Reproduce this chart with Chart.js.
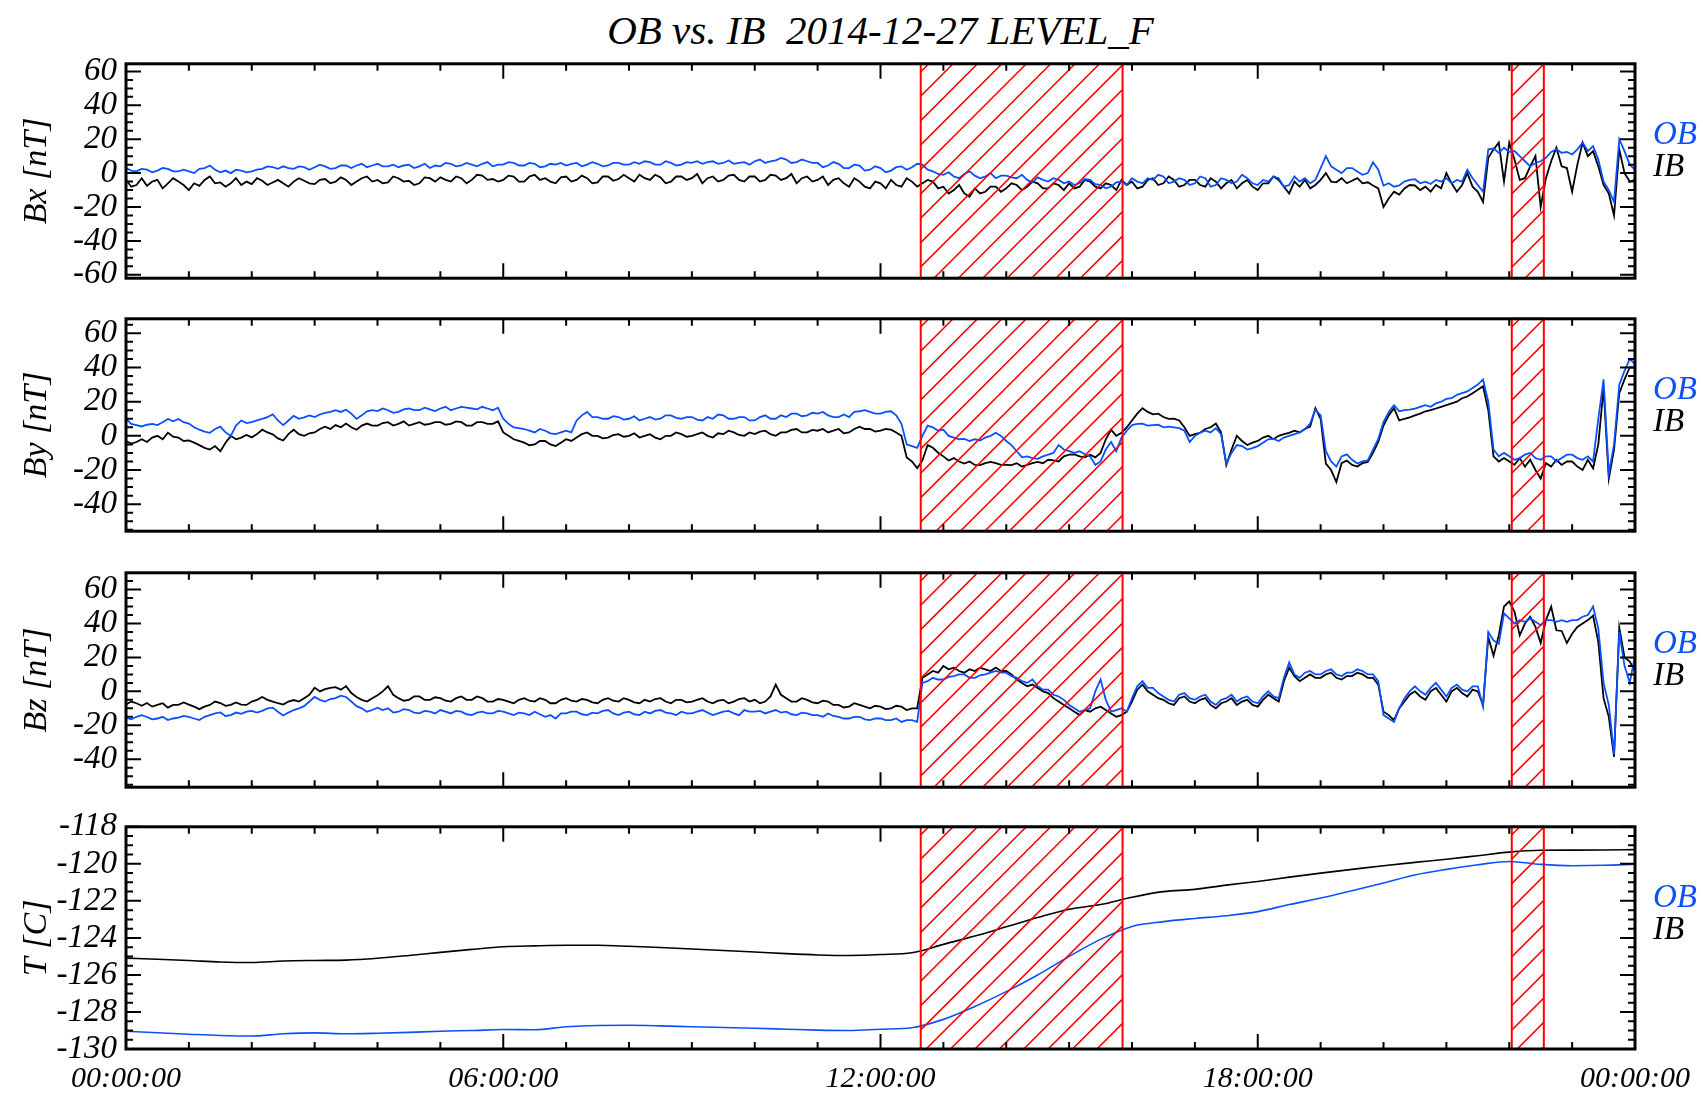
<!DOCTYPE html>
<html lang="en">
<head>
    <meta charset="UTF-8">
    <title>OB vs. IB 2014-12-27 LEVEL_F</title>
    <script src="https://cdn.jsdelivr.net/npm/chart.js@4.4.0/dist/chart.umd.min.js"></script>
    <style>
        body { margin: 0; width: 1703px; height: 1096px; background: #fff; position: relative; overflow: hidden; }
        canvas { position: absolute; left: 0; }
        #title { position: absolute; left: 126px; width: 1509px; top: 6px; line-height: 40px; text-align: center;
                 font: italic 41px "Liberation Serif", serif; white-space: pre; color: #000; }
    </style>
</head>
<body>
<div id="title">OB vs. IB  2014-12-27 LEVEL_F</div>
<canvas id="bx" width="1703" height="272" style="top:35px"></canvas>
<canvas id="by" width="1703" height="270" style="top:290px"></canvas>
<canvas id="bz" width="1703" height="272" style="top:544px"></canvas>
<canvas id="temp" width="1703" height="298" style="top:798px"></canvas>

<script>
    // x axis: hours of the day
    const timeTicks = [0, 6, 12, 18, 24];
    const timeLabels = ["00:00:00", "06:00:00", "12:00:00", "18:00:00", "00:00:00"];
    const seriesNames = ["OB", "IB"];

    // flagged intervals (hours), drawn hatched
    const flagged = [[12.64, 15.85], [22.04, 22.55]];

    // magnetometer, one value every 5 minutes (one row per hour), nT
    const bxOB = [
        3, 1.5, 1, 2.5, 2, 0.5, 1.5, 3, 2.5, 1, 1, 2,
        1, 0, 2.5, 3, 4.5, 2, 0.5, 1.5, 0, 2, 1.5, 0.5,
        1, 2, 2.5, 4, 3.5, 2.5, 4, 3, 2.5, 4, 3.5, 2,
        3.5, 5, 4, 2.5, 3, 4.5, 4.5, 3, 4.5, 5.5, 3.5, 4.5,
        5.5, 4, 4, 5, 3.5, 4.5, 5, 3, 4, 5.5, 3, 4.5,
        4, 6, 5.5, 4, 4.5, 6, 5, 4, 5.5, 6.5, 4, 5,
        5, 6.5, 6, 4.5, 4.5, 6, 5.5, 3.5, 4, 5.5, 5, 6,
        4.5, 5.5, 6, 4, 5, 6.5, 5.5, 4, 4.5, 6, 6, 5,
        5, 6.5, 5.5, 7, 6.5, 5, 5, 7, 6, 4.5, 5, 6.5,
        6, 7, 5.5, 6.5, 7, 5.5, 6, 7.5, 5.5, 6, 6.5, 5,
        7, 8, 6, 7, 7.5, 9, 8, 6, 6.5, 8, 7, 6,
        6, 3.5, 4.5, 6.5, 5.5, 3, 3, 5, 4.5, 1.5, 2, 4,
        3, 0.5, 1.5, 3.5, 4, 2, 3.5, 5.5, 5, 2, 1, -0.5,
        -1, 0.5, -2, -3, -0.5, 1, -1.5, -3, -2, 0, -3, -1.5,
        -1.5, -2.5, -3, -1, -4, -5.5, -2.5, -4, -5, -3, -4, -6,
        -5, -7, -6, -3.5, -4, -6.5, -7, -9, -8, -5.5, -5, -7,
        -3, -5, -6, -3, -4, -1, -2, -6, -5, -3, -4, -7,
        -6, -2, -3, -8, -7, -3, -4, -6, -5, -1, -3, -6,
        -7, -4, -5, -2, -3, -8, -7, -2, -5, -3, -6, -4,
        3, 10, 4, 2, 0, 3, 3, 1, -1, 0, 6.4, 2,
        -7.3, -6, -8, -7.3, -5, -4, -3.6, -6, -5, -6.4, -4, -5,
        -3, -6, -4, -5, 2, -3, -7, -11, 14, 14.5, 12, 15,
        12.5, 13, 10, 7, 4, 6, 7, 9, 12.5, 14, 12, 12.5,
        11, 14, 18, 13, 16, 8, -5, -10, -17, 20, 13, 5,
        2];
    const bxIB = [
        -4, -8, -7, -3, -7.5, -5, -4, -9, -6, -3, -5, -7,
        -10, -6, -7.5, -4, -2, -6, -5.5, -8, -6, -3, -7, -5,
        -6.5, -3, -4.5, -7, -5.5, -4, -6, -8, -5, -3, -4.5, -6,
        -6.5, -4, -3.5, -6, -5, -2.5, -4, -7, -5, -3, -2, -5,
        -4, -6, -5.5, -2, -3, -5, -4.5, -7, -6, -2.5, -3, -5,
        -2.5, -4, -5, -2, -3, -6, -4, -1, -1.5, -4, -3.5, -5,
        -4, -1.5, -2, -5, -5, -2, -1, -4, -3, -5, -6, -2.5,
        -2, -5, -4, -1.5, -3, -6, -5.5, -2, -2, -4.5, -3.5, -1,
        -3, -5, -1, -3, -4, -1, -2.5, -6, -5, -2, -2, -4,
        -3, -0.5, -6, -3, -2, -5, -4, -1.5, -1, -4, -5, -2,
        -2, -5, -4, -1, -1.5, -4, -3, -0.5, -6, -3, -2, -5,
        -4, -2, -7, -4, -3, -6, -8, -3, -5, -8, -9, -5,
        -6, -9, -4, -7, -8, -3, -5, -8, -6, -4, -5, -9,
        -8, -12, -10, -7, -12, -14, -9, -12, -11, -8, -8, -11,
        -9, -6, -7, -10, -8, -5, -6, -9, -9, -6, -7, -10,
        -6, -9, -8, -4, -5, -8, -9, -6, -7, -10, -4, -7,
        -5, -9, -8, -4, -3, -7, -6, -2, -4, -8, -7, -4,
        -4, -7, -8, -3, -5, -9, -6, -4, -9, -6, -4, -8,
        -10, -6, -6, -2, -4, -8, -12, -5, -8, -4, -9, -7,
        -4, 0, -5, -5.4, -3, -6, -4.5, -3, -6, -5.4, -7.3, -9,
        -20, -15, -11, -12.7, -9, -7, -7.3, -10, -8, -10.9, -7, -9,
        0, -6, -11, -7, 0, -8, -11, -17, 9, 14, 18, -5,
        18, 8, -4, -3, 4, 10, -20, -3, 7, 15, 4, 3,
        -11, 5, 18, 10, 13, 4, -7, -12, -25, 14, 0, -5,
        -4];
    const byOB = [
        10, 7, 6.3, 5.5, 6.5, 7, 6.3, 8, 9.9, 8.5, 9.9, 8,
        7.2, 5, 3.6, 2.5, 1.8, 4, 5.4, 2, 0, 6, 9, 7.5,
        8, 9, 9.9, 11, 12.6, 9, 6.3, 9, 11.7, 10, 10.8, 12,
        11, 12.5, 13.5, 14, 15, 14, 15.3, 13, 9.9, 12, 14.4, 15,
        14.5, 16, 15, 13.5, 14, 15.5, 16, 15, 15, 16.5, 15.5, 14.5,
        16, 17, 15, 16, 17, 16.5, 16, 15.5, 17, 16, 15, 16.5,
        10, 7, 5, 4.5, 4, 3, 2, 4, 3, 1.5, 1, 2,
        3, 2, 9, 12, 14, 11, 11, 10, 10, 11.5, 11, 9.5,
        10, 11.5, 9, 10, 11, 9.5, 10, 12, 12, 10.5, 10, 11,
        11, 9.5, 9, 11, 10, 12.5, 12, 10, 10, 11, 11, 9,
        9, 11, 12, 10, 10, 12, 11, 13, 13, 11.5, 12, 13.5,
        13, 14, 12, 11, 11, 12.5, 11, 14, 14.4, 15, 14, 13,
        13, 14, 14.4, 12, 7, -5, -6, -7, 0, 6, 5, 3,
        3.6, 0, -1, -2, -1.8, -3, -2, -2.7, -1, 0, 1.8, 0,
        -3, -5.4, -9, -12.6, -12, -13, -13.5, -12, -11, -10, -5.4, -8,
        -9, -10, -9, -10.8, -12, -17, -15, -8, -3.6, -9, -1, 3,
        6.3, 7, 7.2, 6, 6.3, 6.5, 5, 5.4, 5, 4.5, 3, -3.6,
        0, 1.8, 3, 2, 4.5, 1, -16.2, -10, -5.4, -6, -8, -7.2,
        -6, -4, -2, -1.8, -3, -1, 0, 1, 2, 4, 7.2, 15.3,
        12, -9, -15, -18, -12, -10.8, -14, -16.2, -15, -14.4, -8, -1.8,
        8, 14, 18, 14.4, 15, 15.3, 16, 17, 18, 17, 19, 20,
        21.6, 22, 24, 25, 26, 28, 30, 33, 20, -8, -12, -10,
        -12, -14, -13, -11, -10, -13, -14, -12, -12, -15, -13, -11,
        -11, -13, -14, -12, -15, 10, 33, -22, -5, 30, 38, 45,
        42];
    const byIB = [
        -3, -4.5, -3.6, -2, -3.6, -1, 0, -2, 1.8, -0.5, -1, -3,
        -2.7, -4, -5.4, -7, -8, -6, -9, -4, 0, -2, -1, 0.5,
        -0.9, 1, 3.6, 2, 0.9, -1.5, -2.7, 1, 3.6, 1, 0, 1.5,
        2, 4, 5.4, 4, 6.3, 5, 7.2, 5, 3.6, 6, 7.2, 6,
        6, 7.5, 8, 6, 7, 8.5, 6, 7, 8, 6.5, 7, 8,
        8, 6.5, 7, 8.5, 8, 6, 6, 8, 8, 7, 7, 8.5,
        2, 0, -2, -3, -4, -5.5, -5, -3, -3, -5, -6, -4,
        -2, -3, -1, 1, 2, 0, 0, -1.5, -1, 0.5, 1, -0.5,
        0, 1.5, -1, 0, 1, -1, -2, 0, 0, 2, 1, -0.5,
        0, 1, 2, 0, -1, 1.5, 1, 3, 2, 0.5, 0, 2,
        1, 2.5, 3, 1, 0, 2, 2, 3.5, 4, 2, 2, 3.5,
        3, 4, 2, 3, 4, 1.5, 2, 4, 5.4, 4, 4, 2.5,
        3, 4, 3.6, 2, 0, -12.6, -15, -18.9, -14.4, -5.4, -7, -9.9,
        -12, -14.4, -13, -15, -16.2, -15, -17, -17.1, -16, -15.3, -16, -17,
        -17, -17.1, -16, -18, -17, -16, -15.3, -16, -14, -14.4, -15, -12,
        -11, -10.8, -12, -12.6, -11, -12.6, -10, -2, 3.6, 0, 1.8, 5,
        9, 13, 16.2, 14, 12.6, 13, 11, 9.9, 10, 9, 5, 0,
        1, 1.8, 4, 5, 7.2, 2, -17.1, -8, 0, -3, -5.4, -4,
        -3, -1, 0, -2, 0, 1, 1.8, 3, 2, 4, 5.4, 16.2,
        10, -16.2, -20, -27, -16, -14.4, -17, -18, -16, -15.3, -10, -3.6,
        6, 12, 16.2, 9, 10, 10.8, 12, 13, 14.4, 15, 16, 17,
        18, 19, 20, 22, 23, 25, 27, 29, 15, -12, -15, -13,
        -15, -17, -13, -18, -14, -20, -25, -16, -18, -14, -17, -15,
        -15, -18, -20, -14, -19, -5, 28, -25, -8, 25, 33, 40,
        40];
    const bzOB = [
        -15.5, -16.5, -15, -14, -15.1, -16.5, -16, -15, -16.9, -16, -15.5, -14.5,
        -15.1, -16, -16.9, -15, -14, -13, -12.4, -14.5, -14, -12.5, -13.3, -12,
        -11.5, -12.5, -11.5, -10, -9.6, -12, -14.2, -12.5, -11, -10, -8.7, -6,
        -3.3, -5, -6, -4.5, -4, -2.5, -3.3, -6, -8.7, -10, -12, -11,
        -9.6, -11, -10, -12.5, -12, -10.5, -11, -12.5, -13, -11.5, -12, -13,
        -11, -12, -13, -11.5, -12, -13.5, -14, -12.5, -12, -13, -13, -11.5,
        -12, -13, -14, -12.5, -13, -14, -12, -13.5, -15, -14, -16, -13,
        -13, -12, -12, -13.5, -14, -12.5, -13, -11.5, -11, -13, -14, -12.5,
        -12, -13.5, -14, -12, -13, -11.5, -11, -12.5, -13, -14, -12, -13,
        -13, -12, -11, -12.5, -14, -13, -12, -11.5, -13, -14, -11, -12,
        -12, -11.5, -13, -12, -11, -12.5, -12, -13.5, -14, -12.5, -13, -14,
        -14, -15, -13, -14.5, -15, -16, -16, -15, -15, -16.5, -17, -16,
        -16, -17, -17, -16, -18, -17, -17, -18, 5, 6, 8, 7,
        7, 8.5, 9, 10, 10, 8, 8, 9.5, 10, 11, 12, 11,
        11, 9, 8, 6, 5, 7, 3, 1, 1, -2, -3, -5,
        -8, -10, -12, -11, -10, 0, 7, -5, -12, -11, -10, -12,
        -4, 3, 6, 2, 2, -1, -3, -5, -6, -2, -1, -4,
        -5, -3, -2, -6, -8, -5, -4, -2, -6, -4, -3, -6,
        -7, -3, 0, -3, -4, 8, 17, 10, 8, 11, 12, 10,
        10, 12, 13, 10, 9, 11, 11, 13, 12, 10, 10, 6,
        -14, -16, -18, -10, -4, 0, 3, 0, -2, 2, 5, 1,
        -3, 2, 4, 1, 0, 3, 3, -9, 35, 30, 28, 46,
        43, 40, 42, 41, 43, 41, 39, 42, 42, 41, 42, 41,
        42, 42, 44, 45, 50, 37, 5, -8, -37, 35, 15, 5,
        21];
    const bzIB = [
        -7.8, -6, -7, -8.5, -6.9, -9, -8, -7, -9.6, -8, -8, -6.5,
        -7.8, -9, -10.5, -9, -8, -6, -6.9, -8.5, -8, -6.5, -7.8, -8,
        -6, -5, -3.3, -5, -6, -7, -7.8, -6, -5.1, -6, -4, -2,
        2.2, 0, 1.3, 2, 2.5, 1, 3.1, -1, -3.3, -5, -6, -4,
        -2.3, 0, 3, -2, -4, -5.5, -5, -3, -3, -5, -5, -3.5,
        -4, -5.5, -6, -4, -3, -5, -5, -3, -4, -6, -6, -4.5,
        -5, -6, -7, -5, -4, -5.5, -6, -4, -5, -7, -7, -5,
        -4, -5.5, -6, -4.5, -5, -6.5, -7, -5, -4, -5.5, -6, -4,
        -5, -6.5, -7, -5, -6, -4.5, -4, -6, -7, -5, -5, -6.5,
        -6, -5, -4, -6, -7, -5.5, -5, -7, -6, -4.5, -4, -6,
        -5, -7, -6, -3, 4, -2, -4, -6, -6, -4, -5, -6.5,
        -7, -5.5, -6, -8, -8, -9.5, -9, -7, -8, -9, -10, -8.5,
        -9, -10.5, -10, -8.5, -9, -11, -10, -10, 8, 10, 12, 11,
        15, 13, 14, 12, 11, 13, 12, 14, 13, 12, 14, 12,
        12, 10, 7, 5, 3, 4, 2, 0, -1, -4, -6, -8,
        -10, -12, -14, -11, -12, -10, -9, -11, -13, -15, -14, -12,
        -6, 1, 4, 0, -2, -4, -5, -7, -8, -4, -3, -6,
        -7, -5, -4, -8, -10, -7, -6, -4, -8, -6, -5, -8,
        -9, -5, -2, -4, -6, 6, 14, 9, 6, 8, 10, 8,
        8, 10, 11, 8, 7, 9, 9, 11, 10, 8, 8, 4,
        -12, -14, -17, -10, -6, -2, 0, -3, -5, 0, 2, -2,
        -6, 0, 2, -1, -3, 1, 0, -8, 32, 21, 33, 50,
        53, 47, 33, 40, 44, 38, 28.5, 42, 50, 36, 35.6, 28.5,
        34, 38, 40, 42, 44.6, 29, -4, -15, -38.6, 37.6, 20, 17.6,
        12];

    // sensor temperatures every 30 minutes, deg C
    const tempOB = [-129.04, -129.12, -129.2, -129.27, -129.3, -129.18, -129.13, -129.18, -129.15, -129.1,
        -129.04, -129.0, -128.95, -128.96, -128.8, -128.73, -128.72, -128.75, -128.8, -128.84,
        -128.88, -128.93, -128.98, -129.0, -128.93, -128.85, -128.4, -127.7, -126.9, -126.0,
        -125.0, -124.08, -123.38, -123.12, -122.95, -122.8, -122.58, -122.2, -121.85, -121.45,
        -121.03, -120.6, -120.3, -120.05, -119.87, -120.03, -120.1, -120.08, -120.02];
    const tempIB = [-125.09, -125.15, -125.22, -125.3, -125.33, -125.25, -125.22, -125.2, -125.1, -124.95,
        -124.78, -124.62, -124.48, -124.43, -124.4, -124.4, -124.45, -124.52, -124.6, -124.68,
        -124.76, -124.85, -124.92, -124.95, -124.9, -124.8, -124.35, -123.9, -123.4, -122.9,
        -122.45, -122.2, -121.8, -121.5, -121.38, -121.15, -120.95, -120.72, -120.5, -120.3,
        -120.1, -119.92, -119.75, -119.56, -119.37, -119.27, -119.26, -119.25, -119.23];

    const bTicks = [-60, -40, -20, 0, 20, 40, 60];
    const byTicks = [-40, -20, 0, 20, 40, 60];
    const tTicks = [-130, -128, -126, -124, -122, -120, -118];

    const OB_COLOR = '#0a50ff';
    const FONT = '"Liberation Serif", serif';
    Chart.defaults.color = '#000';

    const hatchPlugin = {
        id: 'hatch',
        afterDatasetsDraw(chart) {
            const {ctx, chartArea: a, scales: {x}} = chart;
            const h = a.bottom - a.top;
            ctx.save();
            ctx.strokeStyle = '#ff0000';
            flagged.forEach(([t0, t1]) => {
                const x0 = x.getPixelForValue(t0), x1 = x.getPixelForValue(t1);
                ctx.save();
                ctx.beginPath();
                ctx.rect(x0, a.top, x1 - x0, h);
                ctx.clip();
                ctx.beginPath();
                for (let s = x0 - h + 8; s < x1; s += 24.4) {
                    ctx.moveTo(s, a.bottom);
                    ctx.lineTo(s + h, a.top);
                }
                ctx.lineWidth = 1.6;
                ctx.stroke();
                ctx.restore();
                ctx.lineWidth = 2;
                ctx.strokeRect(x0, a.top, x1 - x0, h);
            });
            ctx.restore();
        }
    };

    // IDL-style box: inward ticks on all four sides, plus the OB/IB labels
    const framePlugin = {
        id: 'frame',
        afterDraw(chart, args, opts) {
            const {ctx, chartArea: a, scales: {x, y}} = chart;
            ctx.save();
            ctx.strokeStyle = '#000';
            ctx.lineWidth = 2;
            ctx.beginPath();
            for (let hr = 0; hr <= 24; hr++) {
                const px = x.getPixelForValue(hr);
                const len = hr % 6 === 0 ? 15 : 7;
                ctx.moveTo(px, a.bottom); ctx.lineTo(px, a.bottom - len);
                ctx.moveTo(px, a.top); ctx.lineTo(px, a.top + len);
            }
            const step = opts.minorStep;
            for (let v = Math.ceil(y.min / step) * step; v <= y.max; v += step) {
                const py = y.getPixelForValue(v);
                const len = opts.ticks.some(t => Math.abs(t - v) < 1e-6) ? 15 : 7;
                ctx.moveTo(a.left, py); ctx.lineTo(a.left + len, py);
                ctx.moveTo(a.right, py); ctx.lineTo(a.right - len, py);
            }
            ctx.stroke();
            ctx.lineWidth = 3;
            ctx.strokeRect(a.left, a.top, a.right - a.left, a.bottom - a.top);

            ctx.font = 'italic 33px ' + FONT;
            ctx.textAlign = 'left';
            ctx.textBaseline = 'alphabetic';
            chart.data.datasets.forEach((ds, i) => {
                ctx.fillStyle = ds.borderColor;
                ctx.fillText(ds.label, a.right + 18, a.top + 80 + 32 * i);
            });
            ctx.restore();
        }
    };

    // values are evenly spaced over the 24 hours
    function toXY(values) {
        const dt = 24 / (values.length - 1);
        return values.map((v, i) => ({x: i * dt, y: v}));
    }

    function makePanel(id, p) {
        const mode = p.smooth ? 'monotone' : 'default';
        new Chart(id, {
            type: 'line',
            data: {
                datasets: [
                    {label: seriesNames[0], data: toXY(p.ob), borderColor: OB_COLOR,
                        borderWidth: p.lw, pointRadius: 0, cubicInterpolationMode: mode},
                    {label: seriesNames[1], data: toXY(p.ib), borderColor: '#000000',
                        borderWidth: p.lw, pointRadius: 0, cubicInterpolationMode: mode}
                ]
            },
            options: {
                responsive: false,
                animation: false,
                events: [],
                layout: {padding: {left: 0, right: 68, top: 20, bottom: p.last ? 0 : 20}},
                plugins: {
                    legend: {display: false},
                    tooltip: {enabled: false},
                    frame: {minorStep: p.minorStep, ticks: p.ticks}
                },
                scales: {
                    x: {
                        type: 'linear', min: 0, max: 24,
                        grid: {display: false, drawTicks: false},
                        border: {display: false},
                        ticks: {
                            display: !!p.last, padding: 12, autoSkip: false, maxRotation: 0,
                            font: {family: FONT, size: 30, style: 'italic'},
                            callback: v => timeLabels[timeTicks.indexOf(v)]
                        },
                        afterBuildTicks: s => { s.ticks = timeTicks.map(v => ({value: v})); },
                        afterFit: s => { s.height = p.last ? 47 : 0; }
                    },
                    y: {
                        min: p.min, max: p.max,
                        grid: {display: false, drawTicks: false},
                        border: {display: false},
                        ticks: {
                            padding: 9, autoSkip: false,
                            font: {family: FONT, size: 33, style: 'italic'},
                            callback: v => String(v)
                        },
                        title: {
                            display: true, text: p.title, padding: {top: 17, bottom: 0},
                            font: {family: FONT, size: 34, style: 'italic'}
                        },
                        afterBuildTicks: s => { s.ticks = p.ticks.map(v => ({value: v})); },
                        afterFit: s => { s.width = 126; }
                    }
                }
            },
            plugins: [hatchPlugin, framePlugin]
        });
    }

    makePanel('bx', {title: 'Bx [nT]', ob: bxOB, ib: bxIB, min: -62, max: 64.5,
        ticks: bTicks, minorStep: 5, lw: 1.8});
    makePanel('by', {title: 'By [nT]', ob: byOB, ib: byIB, min: -55.8, max: 68.5,
        ticks: byTicks, minorStep: 5, lw: 1.8});
    makePanel('bz', {title: 'Bz [nT]', ob: bzOB, ib: bzIB, min: -56.5, max: 69.9,
        ticks: byTicks, minorStep: 5, lw: 1.8});
    makePanel('temp', {title: 'T [C]', ob: tempOB, ib: tempIB, min: -130, max: -118,
        ticks: tTicks, minorStep: 0.5, lw: 1.6, smooth: true, last: true});
</script>
</body>
</html>
